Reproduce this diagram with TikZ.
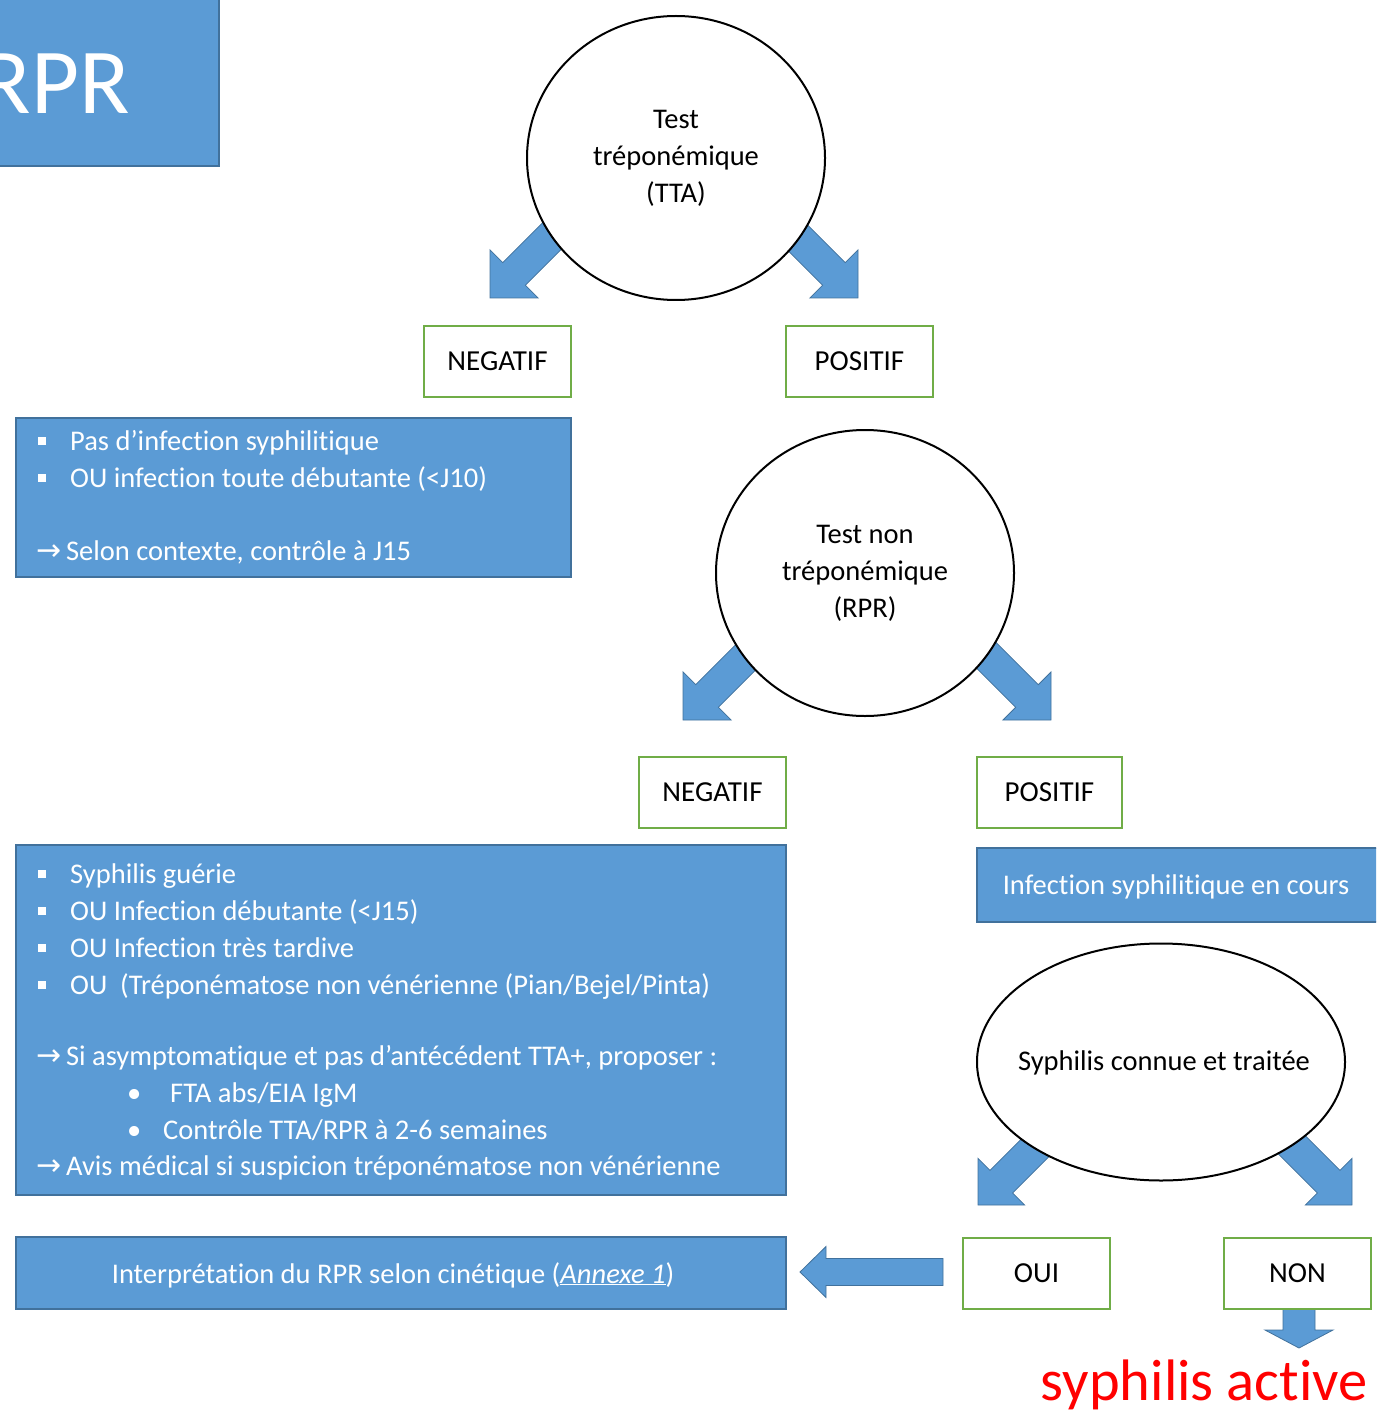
\documentclass[tikz,border=0pt]{standalone}
\usepackage{fontspec}
\setmainfont{Carlito}[Ligatures=NoCommon]
\newfontfamily\arrowfont{DejaVu Sans}
\usetikzlibrary{shapes.geometric}
\definecolor{boxblue}{HTML}{5B9BD5}
\definecolor{boxedge}{HTML}{41719C}
\definecolor{labgreen}{HTML}{70AD47}
\definecolor{activered}{HTML}{FF0000}
\tikzset{
  bluebox/.style={draw=boxedge, line width=2pt, fill=boxblue, rectangle, inner sep=0pt},
  greenbox/.style={draw=labgreen, line width=2pt, fill=white, rectangle, minimum width=147pt, minimum height=71pt, inner sep=0pt, font=\fontsize{29}{32}\selectfont},
  bubble/.style={draw=black, line width=2pt, fill=white, ellipse, inner sep=0pt, align=center, font=\fontsize{28.5}{37}\selectfont},
  btext/.style={inner sep=0pt, align=center, font=\fontsize{28.5}{37}\selectfont},
  wtext/.style={text=white, font=\fontsize{28.5}{32}\selectfont, anchor=base west, inner sep=0pt},
  barrowstyle/.style={fill=boxblue, draw=boxedge, line width=0.8pt, line join=miter},
}
\newcommand{\blockarrow}[6]{%
  \begin{scope}[shift={#1}, rotate=#2]
    \filldraw[barrowstyle] (0,0) -- (-#6,#5) -- (-#6,#4) -- (-#3,#4) -- (-#3,-#4) -- (-#6,-#4) -- (-#6,-#5) -- cycle;
  \end{scope}}
\newcommand{\sqbul}[2]{\fill[white] (#1-4,#2-4) rectangle (#1+4,#2+4);}
\newcommand{\rarr}{{\arrowfont\fontsize{30}{32}\selectfont →}}
\begin{document}
\begin{tikzpicture}[x=1pt, y=-1pt]
\useasboundingbox (0,0) rectangle (1376,1412);
\clip (0,0) rectangle (1376,1412);

% title box
\node[bluebox, minimum width=240pt, minimum height=180pt] (title) at (99,76) {};
\node[text=white, font=\fontsize{93}{100}\selectfont, anchor=base east, inner sep=0pt] (titletext) at (130,114) {RPR};

% block arrows behind bubbles
\blockarrow{(490,298)}{225}{110}{16}{34}{34}
\blockarrow{(858,298)}{315}{110}{16}{34}{34}
\blockarrow{(683,720)}{225}{110}{16}{34}{34}
\blockarrow{(1051,720)}{315}{110}{16}{34}{34}
\blockarrow{(978,1205)}{225}{110}{16}{33}{33}
\blockarrow{(1352,1205)}{315}{110}{16}{33}{33}
\blockarrow{(800,1272)}{180}{143}{13.5}{25.5}{26}
\blockarrow{(1299,1348)}{270}{42}{16}{34}{18}

% bubbles
\node[bubble, minimum width=298pt, minimum height=284pt] (tta) at (676,158) {Test\\tréponémique\\(TTA)};
\node[bubble, minimum width=298pt, minimum height=286pt] (rpr) at (865,573) {Test non\\tréponémique\\(RPR)};
\node[bubble, minimum width=368pt, minimum height=237pt] (connue) at (1161,1062) {};
\node[btext] (connuetext) at (1164,1063) {Syphilis connue et traitée};

% green label boxes
\node[greenbox] (neg1) at (497.5,361) {NEGATIF};
\node[greenbox] (pos1) at (859.5,361) {POSITIF};
\node[greenbox] (neg2) at (712.5,792.5) {NEGATIF};
\node[greenbox, minimum width=145pt] (pos2) at (1049.5,792.5) {POSITIF};
\node[greenbox] (oui) at (1036.5,1273.5) {OUI};
\node[greenbox] (non) at (1297.5,1273.5) {NON};

% box A
\node[bluebox, minimum width=555pt, minimum height=159pt] (boxA) at (293.5,497.5) {};
\sqbul{42}{441}
\sqbul{42}{478}
\node[wtext] (a1) at (70,450) {Pas d’infection syphilitique};
\node[wtext] (a2) at (70,487) {OU infection toute débutante (<J10)};
\node[wtext] (a3) at (36,560) {\rarr\,Selon contexte, contrôle à J15};

% box B
\node[bluebox, minimum width=770pt, minimum height=350pt] (boxB) at (401,1020) {};
\sqbul{42}{874}
\sqbul{42}{911}
\sqbul{42}{948}
\sqbul{42}{985}
\node[wtext] (b1) at (70,883) {Syphilis guérie};
\node[wtext] (b2) at (70,920) {OU Infection débutante (<J15)};
\node[wtext] (b3) at (70,957) {OU Infection très tardive};
\node[wtext] (b4) at (70,994) {OU\ \ (Tréponématose non vénérienne (Pian/Bejel/Pinta)};
\node[wtext] (b5) at (36,1065) {\rarr\,Si asymptomatique et pas d’antécédent TTA+, proposer :};
\node[wtext] (b6d) at (127,1102) {•};
\node[wtext] (b6) at (170,1102) {FTA abs/EIA IgM};
\node[wtext] (b7d) at (127,1139) {•};
\node[wtext] (b7) at (163,1139) {Contrôle TTA/RPR à 2-6 semaines};
\node[wtext] (b8) at (36,1175) {\rarr\,Avis médical si suspicion tréponématose non vénérienne};

% box C
\node[bluebox, minimum width=404pt, minimum height=74pt] (boxC) at (1179,885) {};
\node[wtext, anchor=base] (c1) at (1176,894) {Infection syphilitique en cours};

% box D
\node[bluebox, minimum width=770pt, minimum height=72pt] (boxD) at (401,1273) {};
\node[wtext, anchor=base] (d1) at (393,1283) {Interprétation du RPR selon cinétique (\underline{\textit{Annexe 1}})};

% result
\node[text=activered, font=\fontsize{58.5}{64}\selectfont, anchor=base east, inner sep=0pt] (active) at (1368,1400) {syphilis active};
\end{tikzpicture}
\end{document}
